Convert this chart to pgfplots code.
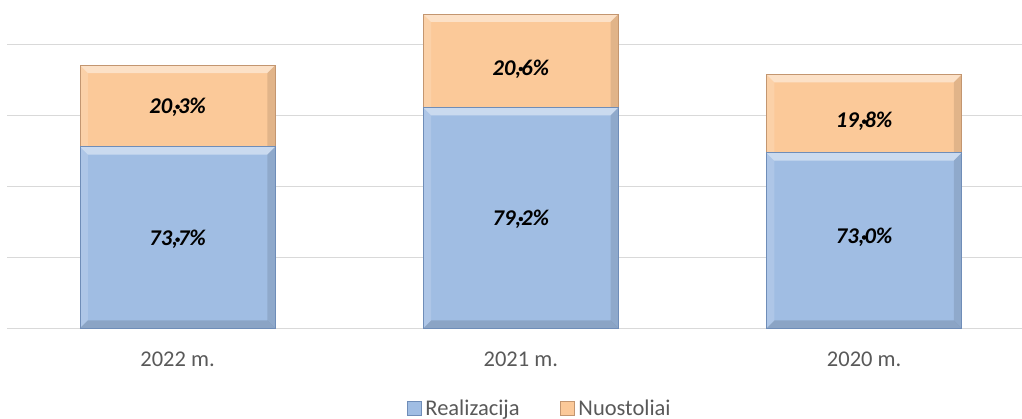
\documentclass[border=0pt]{standalone}
\usepackage{pgfplots}
\pgfplotsset{compat=1.18}
\usepackage{fontspec}
\setmainfont{Carlito}
\definecolor{blueF}{HTML}{A0BDE3}
\definecolor{blueD}{HTML}{6F8DB8}
\definecolor{orangeF}{HTML}{FBC999}
\definecolor{orangeD}{HTML}{C39670}
\definecolor{gridC}{HTML}{D9D9D9}
\definecolor{txtC}{HTML}{595959}
\tikzset{bevel/.style={path picture={
  \def\bb{path picture bounding box}
  \fill[path picture={}, draw=none, fill=white, fill opacity=0.45] (\bb.north west) -- (\bb.north east) -- ([xshift=-8bp,yshift=-8bp]\bb.north east) -- ([xshift=8bp,yshift=-8bp]\bb.north west) -- cycle;
  \fill[path picture={}, draw=none, fill=black, fill opacity=0.13] (\bb.south west) -- (\bb.south east) -- ([xshift=-8bp,yshift=8bp]\bb.south east) -- ([xshift=8bp,yshift=8bp]\bb.south west) -- cycle;
  \fill[path picture={}, draw=none, fill=black, fill opacity=0.10] (\bb.north east) -- (\bb.south east) -- ([xshift=-8bp,yshift=8bp]\bb.south east) -- ([xshift=-8bp,yshift=-8bp]\bb.north east) -- cycle;
  \fill[path picture={}, draw=none, fill=white, fill opacity=0.15] (\bb.north west) -- (\bb.south west) -- ([xshift=8bp,yshift=8bp]\bb.south west) -- ([xshift=8bp,yshift=-8bp]\bb.north west) -- cycle;
}}}
\pgfplotsset{
  ob/.style={ybar, bar width=0.569, bar shift=0pt, fill=orangeF, draw=orangeD, line width=0.8bp, bevel,
    legend image code/.code={\draw[path picture={}, fill=orangeF, draw=orangeD] (0bp,-7bp) rectangle (14bp,7bp);}},
  bb/.style={ybar, bar width=0.569, bar shift=0pt, fill=blueF, draw=blueD, line width=0.8bp, bevel,
    legend image code/.code={\draw[path picture={}, fill=blueF, draw=blueD] (0bp,-7bp) rectangle (14bp,7bp);}},
}
\begin{document}
\begin{tikzpicture}
\begin{axis}[
  at={(7bp,90.7bp)}, anchor=south west,
  width=1015bp, height=326.6bp, scale only axis,
  xmin=-0.497, xmax=2.46, ymin=0, ymax=4.6,
  axis line style={draw=none},
  major tick length=0pt,
  ytick={0,1,2,3,4}, yticklabels={},
  ymajorgrids, grid style={gridC, line width=1.3bp},
  xtick={0,1,2}, xticklabels={2022 m.,2021 m.,2020 m.},
  x tick label style={anchor=center, yshift=-31.4bp, text=txtC, font=\fontsize{22.5bp}{27bp}\selectfont},
  legend columns=2, reverse legend,
  legend style={at={(0.394,-0.245)}, anchor=west, draw=none, fill=none, inner sep=0pt,
    font=\fontsize{22.5bp}{27bp}\selectfont, text=txtC,
    nodes={inner xsep=3.5bp},
    /tikz/every even column/.append style={column sep=37bp}},
]
% Nuostoliai (drawn as total height, lower part covered by Realizacija)
\addplot[ob] coordinates {(0,3.708)};
\addlegendentry{Nuostoliai}
\addplot[ob, forget plot] coordinates {(1,4.427)};
\addplot[ob, forget plot] coordinates {(2,3.577)};
% Realizacija
\addplot[bb] coordinates {(0,2.558)};
\addlegendentry{Realizacija}
\addplot[bb, forget plot] coordinates {(1,3.113)};
\addplot[bb, forget plot] coordinates {(2,2.473)};
\addplot[forget plot, only marks, mark=*, mark options={draw=none, fill=none},
  nodes near coords, point meta=explicit symbolic,
  nodes near coords style={anchor=center, text=black, font=\fontsize{22.5bp}{27bp}\selectfont\bfseries\itshape}]
  coordinates {(0,3.120) [20,3\%] (1,3.652) [20,6\%] (2,2.910) [19,8\%]
               (0,1.248) [73,7\%] (1,1.539) [79,2\%] (2,1.279) [73,0\%]};
\end{axis}
\pgfresetboundingbox
\useasboundingbox (0,0) rectangle (1022bp,419bp);
\end{tikzpicture}
\end{document}
